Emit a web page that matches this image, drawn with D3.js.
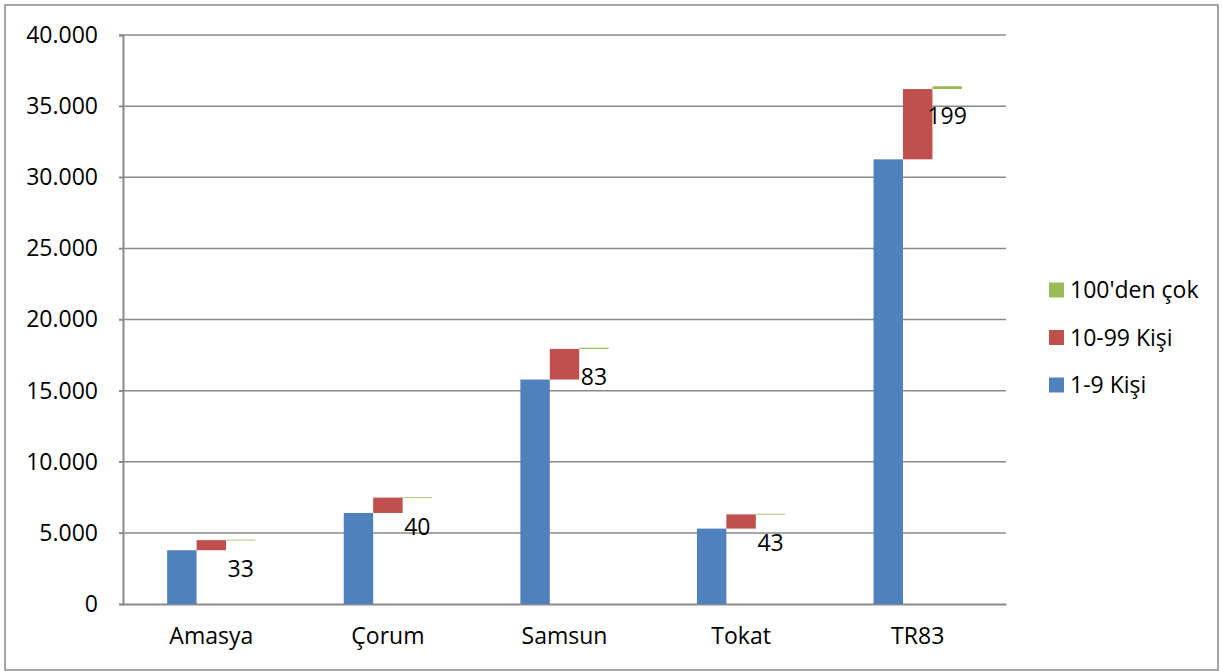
<!DOCTYPE html>
<html>
<head>
<meta charset="utf-8">
<script src="https://cdn.jsdelivr.net/npm/d3@7"></script>
<style>
  html, body { margin: 0; padding: 0; background: #fff; }
  svg { display: block; font-family: "Open Sans", "Noto Sans", sans-serif; }
</style>
</head>
<body>
<svg id="chart" width="1222" height="671"></svg>
<script>
const categories = ["Amasya", "Çorum", "Samsun", "Tokat", "TR83"];
const seriesNames = ["1-9 Kişi", "10-99 Kişi", "100'den çok"];
const small = [3780, 6400, 15780, 5300, 31260];   // 1-9 Kişi
const medium = [710, 1080, 2150, 1000, 4940];     // 10-99 Kişi
const large = [33, 40, 83, 43, 199];              // 100'den çok
const yTicks = [0, 5000, 10000, 15000, 20000, 25000, 30000, 35000, 40000];
const colors = ["#4F81BD", "#C0504D", "#9BBB59"];

const svg = d3.select("#chart");
const plot = { left: 123, right: 1006, top: 35, bottom: 604 };

// outer border
svg.append("rect").attr("x", 5).attr("y", 5).attr("width", 1213).attr("height", 665)
  .attr("fill", "none").attr("stroke", "#888").attr("stroke-width", 1.5);

const x = d3.scaleBand().domain(categories).range([plot.left, plot.right]).paddingInner(0).paddingOuter(0);
const y = d3.scaleLinear().domain([0, 40000]).range([plot.bottom, plot.top]);
const xs = d3.scaleBand().domain(seriesNames).range([x.bandwidth() * 0.25, x.bandwidth() * 0.75]).padding(0);

const fmt = v => d3.format(",")(v).replace(/,/g, ".");

// gridlines
svg.append("g").selectAll("line").data(yTicks.filter(t => t > 0)).join("line")
  .attr("x1", plot.left - 4).attr("x2", plot.right)
  .attr("y1", d => y(d)).attr("y2", d => y(d))
  .attr("stroke", "#8a8a8a").attr("stroke-width", 1.5);

// y axis
const yAxis = svg.append("g").attr("transform", `translate(${plot.left},0)`)
  .call(d3.axisLeft(y).tickValues(yTicks).tickFormat(fmt).tickSize(4).tickPadding(21));
yAxis.select(".domain").attr("stroke", "#8a8a8a").attr("stroke-width", 2);
yAxis.selectAll(".tick line").attr("stroke", "#8a8a8a").attr("stroke-width", 1.5);
yAxis.selectAll("text").attr("font-size", 23).attr("fill", "#000")
  .attr("font-family", "'Open Sans', sans-serif");

// x axis
const xAxis = svg.append("g").attr("transform", `translate(0,${plot.bottom})`)
  .call(d3.axisBottom(x).tickSize(0).tickPadding(24));
xAxis.select(".domain").attr("stroke", "#8a8a8a").attr("stroke-width", 2);
xAxis.selectAll("text").attr("font-size", 23).attr("fill", "#000")
  .attr("font-family", "'Open Sans', sans-serif");

// bars
const rows = categories.map((c, i) => {
  const b0 = 0, b1 = small[i], b2 = small[i] + medium[i], b3 = small[i] + medium[i] + large[i];
  return [
    { cat: c, s: seriesNames[0], y0: b0, y1: b1, color: colors[0] },
    { cat: c, s: seriesNames[1], y0: b1, y1: b2, color: colors[1] },
    { cat: c, s: seriesNames[2], y0: b2, y1: b3, color: colors[2], v: large[i] }
  ];
}).flat();

svg.append("g").selectAll("rect").data(rows).join("rect")
  .attr("x", d => x(d.cat) + xs(d.s))
  .attr("width", xs.bandwidth())
  .attr("y", d => y(d.y1))
  .attr("height", d => Math.max(y(d.y0) - y(d.y1), 0.8))
  .attr("fill", d => d.color);

// labels for 100'den çok
svg.append("g").selectAll("text").data(rows.filter(d => d.s === seriesNames[2])).join("text")
  .attr("x", d => x(d.cat) + xs(d.s) + xs.bandwidth() / 2)
  .attr("y", d => y(d.y1) + 29.5)
  .attr("dy", "0.35em")
  .attr("text-anchor", "middle")
  .attr("font-size", 23)
  .attr("fill", "#000")
  .text(d => d.v);

// legend
const legendItems = [
  { name: seriesNames[2], color: colors[2] },
  { name: seriesNames[1], color: colors[1] },
  { name: seriesNames[0], color: colors[0] }
];
const lg = svg.append("g").selectAll("g").data(legendItems).join("g")
  .attr("transform", (d, i) => `translate(1049,${290 + i * 47.5})`);
lg.append("rect").attr("x", 0).attr("y", -7.5).attr("width", 15).attr("height", 15)
  .attr("fill", d => d.color);
lg.append("text").attr("x", 21).attr("y", 0).attr("dy", "0.35em")
  .attr("font-size", 23).attr("fill", "#000").text(d => d.name);
</script>
</body>
</html>
